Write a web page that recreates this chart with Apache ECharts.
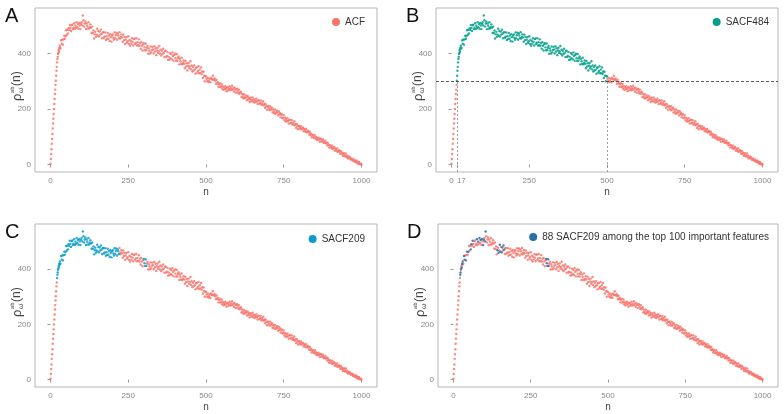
<!DOCTYPE html>
<html><head><meta charset="utf-8">
<script src="https://cdn.jsdelivr.net/npm/echarts@6/dist/echarts.min.js"></script>
<style>html,body{margin:0;padding:0;background:#fff}#c{width:784px;height:414px}</style>
</head><body><div id="c"></div>
<script>
// n = 0..29 (every n)
const nHead = [0,1,2,3,4,5,6,7,8,9,10,11,12,13,14,15,16,17,18,19,20,21,22,23,24,25,26,27,28,29];
const acfHead = [3,20,38,55,75,92,110,130,148,165,182,200,218,236,254,270,287,302,320,338,352,368,380,388,398,402,412,406,420,416];
// n = 30..1000, step 2
const tailStart = 30, tailStep = 2;
const acfTail = [
428,420,448,435,450, 432,451,464,453,463, 484,467,485,472,491, 485,503,492,481,502,
504,488,493,509,488, 500,492,513,495,506, 489,510,501,488,507, 513,501,537,520,497,
508,515,488,508,500, 490,513,490,496,505, 493,474,497,474,483, 454,469,478,460,468,
489,464,481,461,479, 468,486,471,455,476, 477,457,461,476,449, 462,452,474,453,465,
445,470,459,443,465, 469,457,450,476,455, 466,475,450,472,465, 455,477,454,460,469,
458,442,468,448,460, 434,450,459,439,444, 462,434,449,428,445, 435,455,442,429,452,
454,434,439,455,429, 441,430,451,428,438, 417,441,428,411,433, 437,422,412,436,412,
421,427,399,418,410, 400,425,404,413,424, 415,400,426,407,419, 394,411,421,402,408,
427,399,414,393,410, 399,417,402,387,409, 410,388,391,405,377, 388,378,402,383,397,
379,404,391,374,395, 399,384,374,398,374, 383,389,361,381,372, 362,385,361,366,375,
363,347,373,353,365, 339,356,366,347,353, 372,343,357,335,351, 339,357,342,327,349,
350,331,337,354,329, 342,330,350,326,335, 312,334,320,300,319, 317,308,300,312,297,
302,309,296,312,309, 306,320,306,306,310, 302,291,305,292,297, 280,289,293,279,281,
290,273,282,269,278, 271,282,273,264,278, 278,268,272,282,268, 276,270,284,270,276,
263,277,270,259,271, 273,264,257,270,255, 260,262,243,254,246, 239,253,239,243,249,
242,232,247,235,241, 225,235,241,228,232, 242,226,235,223,232, 226,237,227,218,231,
231,219,222,231,215, 223,216,228,213,218, 204,217,209,197,209, 210,202,196,210,196,
202,205,187,198,191, 184,198,184,188,194, 187,177,192,180,186, 170,179,182,167,169,
178,160,169,155,164, 156,167,157,148,161, 161,149,151,160,144, 151,144,156,141,146,
132,146,138,127,139, 139,132,128,138,127, 131,133,120,128,124, 118,128,116,119,122,
116,108,118,107,111, 98,104,107,97,98, 106,93,99,89,96, 89,97,90,82,93,
92,83,85,90,78, 83,78,86,76,79, 69,78,71,61,69, 69,62,58,68,57,
61,63,50,58,54, 48,58,46,49,52, 46,39,49,39,43, 31,37,41,30,32,
40,27,32,22,28, 23,28,22,17,21, 21,14,15,18,10, 13,9,15,6,9,
2,9,4,1,3, 0
];
const xTicks = [0,250,500,750,1000];
const xTicksB = [0,17,250,500,750,1000];
const yTicks = [0,200,400];
const sacf484Range = [17,500];
const sacf209Ranges = [[21,220],[300,308]];
const top100N = [22,23,25,27,28,30,34,36,40,44,48,56,58,62,76,80,84,88,92,96,98,102,104,142,146,150,152,156,158,162,164,300,302,304,306,308];
const threshold = 300;

const SALMON = '#F8766D', TEAL = '#00A08A', BLUE = '#0A9BCB', DBLUE = '#2A6FA6';

const pts = [];
nHead.forEach((n,i)=>pts.push([n, acfHead[i]]));
acfTail.forEach((v,i)=>pts.push([tailStart + i*tailStep, v]));

const inB = n => n>=sacf484Range[0] && n<=sacf484Range[1];
const inC = n => sacf209Ranges.some(r=>n>=r[0]&&n<=r[1]);
const inD = n => top100N.indexOf(n)>=0;

const grids = [
  {left:35, top:8, width:342, height:164},
  {left:436, top:8, width:342, height:164},
  {left:35, top:224, width:342, height:163},
  {left:438, top:224, width:340, height:163}
];
const FONT = 'Liberation Sans';
function xAxis(i, ticks){
  const isB = ticks===xTicksB;
  return {type:'value', gridIndex:i, min:-50, max:1050,
    axisLine:{show:false}, splitLine:{show:false},
    axisTick:{show:true, customValues:ticks, length:3, lineStyle:{color:'#999'}},
    axisLabel:{customValues:ticks, fontSize:8, color:'#888', margin:5, fontFamily:FONT,
      formatter: v => (isB && v===17) ? '{r|17}' : String(v),
      rich:{r:{fontSize:8,color:'#888',padding:[0,0,0,9],fontFamily:FONT}}},
    name:'n', nameLocation:'middle', nameGap:15,
    nameTextStyle:{fontSize:10, color:'#444', fontFamily:FONT}};
}
function yAxis(i){
  return {type:'value', gridIndex:i, min:-27, max:564,
    axisLine:{show:false}, splitLine:{show:false},
    axisTick:{show:true, customValues:yTicks, length:3, lineStyle:{color:'#999'}},
    axisLabel:{customValues:yTicks, fontSize:8, color:'#888', margin:4, fontFamily:FONT}};
}
function sc(name, i, data, color){
  return {name:name, type:'scatter', xAxisIndex:i, yAxisIndex:i, data:data,
    symbolSize:2.4, itemStyle:{color:color, opacity:0.85}, silent:true};
}
const legendStyle = {icon:'circle', itemWidth:8, itemHeight:8, itemGap:6,
  itemStyle:{opacity:1},
  textStyle:{fontSize:10, color:'#333', fontFamily:FONT}};

const seriesB = sc('SACF484',1,pts.filter(p=>inB(p[0])),TEAL);
seriesB.markLine = {silent:true, symbol:'none', label:{show:false}, animation:false,
  data:[
    {yAxis:threshold, lineStyle:{color:'#333', type:[3,2], width:0.8}},
    [{coord:[sacf484Range[0],-27], lineStyle:{color:'#888', type:[2,2], width:0.8}},{coord:[sacf484Range[0],threshold]}],
    [{coord:[sacf484Range[1],-27], lineStyle:{color:'#888', type:[2,2], width:0.8}},{coord:[sacf484Range[1],threshold]}]
  ]};

function ylabel(x,y){
  return {type:'group', x:x, y:y, rotation:Math.PI/2, children:[
    {type:'text', x:-15, y:0, style:{text:'ρ', fontSize:13, fill:'#444', fontFamily:FONT, textVerticalAlign:'middle'}},
    {type:'text', x:-7, y:-5, style:{text:'ab', fontSize:6, fill:'#444', fontFamily:FONT, textVerticalAlign:'middle'}},
    {type:'text', x:-7, y:4, style:{text:'ω', fontSize:7, fill:'#444', fontFamily:FONT, textVerticalAlign:'middle'}},
    {type:'text', x:0, y:0, style:{text:'(n)', fontSize:12, fill:'#444', fontFamily:FONT, textVerticalAlign:'middle'}}
  ]};
}
function letter(t,x,y){ return {type:'text', left:x, top:y, style:{text:t, fontSize:20, fill:'#111', fontFamily:FONT}}; }

const option = {
  animation:false, backgroundColor:'#fff',
  grid: grids.map(g=>Object.assign({show:true, borderColor:'#b5b5b5', borderWidth:1, backgroundColor:'transparent'}, g)),
  xAxis:[xAxis(0,xTicks), xAxis(1,xTicksB), xAxis(2,xTicks), xAxis(3,xTicks)],
  yAxis:[yAxis(0), yAxis(1), yAxis(2), yAxis(3)],
  legend:[
    Object.assign({data:['ACF'], right:414, top:12}, legendStyle),
    Object.assign({data:['SACF484'], right:10, top:12}, legendStyle),
    Object.assign({data:['SACF209'], right:414, top:229}, legendStyle),
    Object.assign({data:['88 SACF209 among the top 100 important features'], right:10, top:227}, legendStyle)
  ],
  series:[
    sc('ACF',0,pts,SALMON),
    sc('other',1,pts.filter(p=>!inB(p[0])),SALMON),
    seriesB,
    sc('other',2,pts.filter(p=>!inC(p[0])),SALMON),
    sc('SACF209',2,pts.filter(p=>inC(p[0])),BLUE),
    sc('other',3,pts.filter(p=>!inD(p[0])),SALMON),
    sc('88 SACF209 among the top 100 important features',3,pts.filter(p=>inD(p[0])),DBLUE)
  ],
  graphic:[
    letter('A',5,6), letter('B',406,6), letter('C',5,222), letter('D',407,222),
    ylabel(17,86), ylabel(418,86), ylabel(17,302), ylabel(420,302)
  ]
};
echarts.init(document.getElementById('c'),null,{renderer:'canvas'}).setOption(option);
</script></body></html>
